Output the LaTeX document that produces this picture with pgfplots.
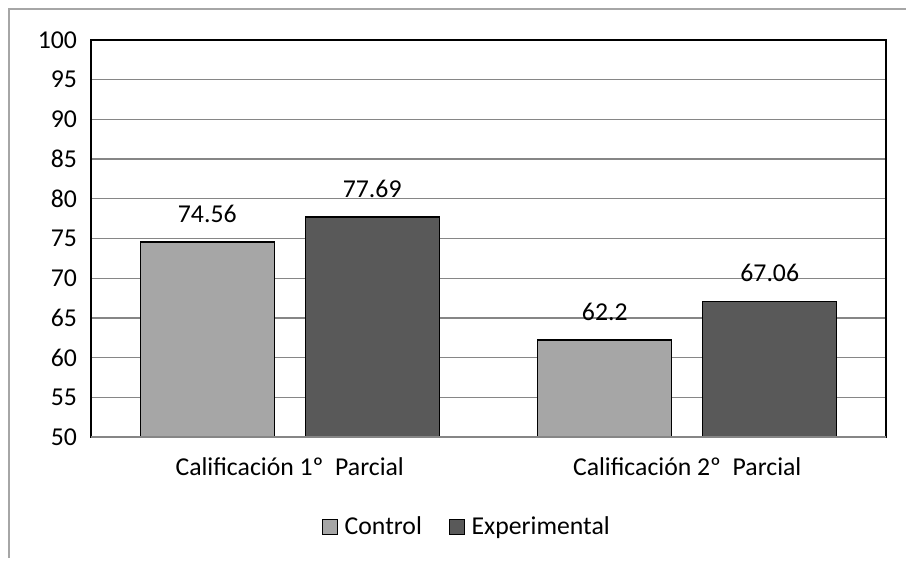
\documentclass[border=0pt]{standalone}
\usepackage{pgfplots}
\pgfplotsset{compat=1.18}
\usepackage{fontspec}
\setmainfont{Carlito}
\definecolor{ctrl}{HTML}{A6A6A6}
\definecolor{expe}{HTML}{595959}
\definecolor{gridc}{HTML}{868686}
\definecolor{framec}{HTML}{A6A6A6}
\newcommand{\lblfont}{\fontsize{19.3}{23}\selectfont}
\begin{document}
\begin{tikzpicture}[x=0.75pt,y=0.75pt]
\path[use as bounding box] (0,0) rectangle (906,561);
\draw[framec, line width=1.2pt] (9,3) -- (9,552) -- (906,552);
\begin{axis}[
  at={(91*0.75pt,124*0.75pt)}, anchor=south west,
  scale only axis, width=795*0.75pt, height=397*0.75pt,
  xmin=-0.5, xmax=1.5, ymin=50, ymax=100,
  ytick={50,55,...,100},
  xtick={0,1},
  xticklabels={Calificación 1º\ \ Parcial, Calificación 2º\ \ Parcial},
  major tick length=0,
  xmajorgrids=false,
  ymajorgrids, grid style={gridc, line width=1pt},
  axis line style={black, line width=1.1pt},
  tick label style={font=\lblfont},
  /pgf/number format/assume math mode=true,
  yticklabel style={xshift=-7pt},
  xticklabel style={yshift=-12pt},
  ybar, bar width=0.337,
  nodes near coords,
  every node near coord/.append style={font=\lblfont, yshift=11pt, black},
  legend style={at={(0.473,-0.2267)}, anchor=center, draw=none, legend columns=2,
    font=\lblfont,
    /tikz/every odd column/.append style={column sep=3pt},
    /tikz/every even column/.append style={column sep=18pt}},
  legend image code/.code={\draw[#1, draw=black, line width=0.8pt] (0pt,-5.5pt) rectangle (11.5pt,5.5pt);},
]
\addplot[fill=ctrl, draw=black, line width=1pt, bar shift=-0.2075,
  nodes near coords={\pgfmathprintnumber[fixed,precision=2]{\pgfplotspointmeta}}]
  coordinates {(0,74.56) (1,62.2)};
\addplot[fill=expe, draw=black, line width=1pt, bar shift=0.2075,
  nodes near coords={\pgfmathprintnumber[fixed,precision=2]{\pgfplotspointmeta}}]
  coordinates {(0,77.69) (1,67.06)};
\legend{Control, Experimental}
\draw[gridc, line width=1.2pt] (rel axis cs:0,0) -- (rel axis cs:1,0);
\end{axis}
\end{tikzpicture}
\end{document}
